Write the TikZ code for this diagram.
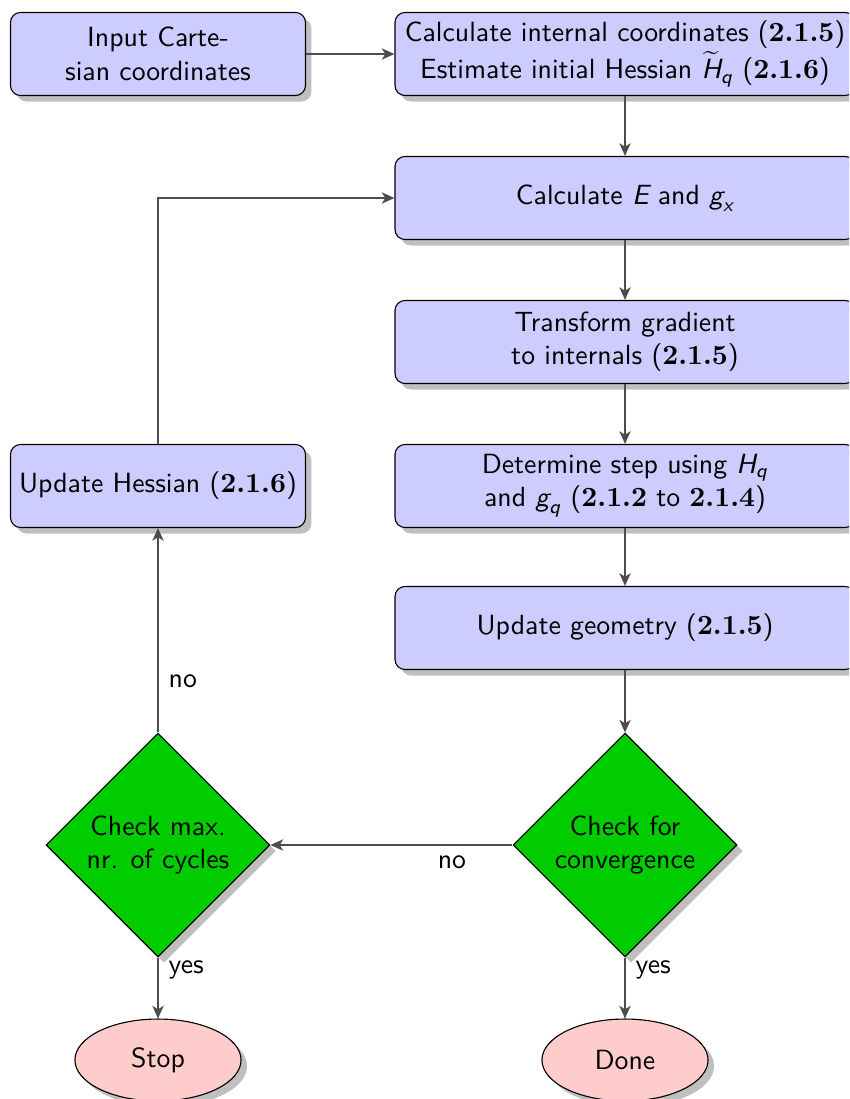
\documentclass[tikz,border=0pt]{standalone}
\usepackage{amsmath}
\usetikzlibrary{shapes.geometric,shadows,arrows.meta}
\newcommand\secnum[1]{{\rmfamily\bfseries #1}}
\newcommand\sv[1]{\textsl{#1}}
\begin{document}
\begin{tikzpicture}[x=0.36pt,y=-0.36pt, font=\sffamily,
 stepbox/.style={rectangle, draw, fill=blue!20, rounded corners=3.6pt, drop shadow, align=center, minimum height=29.9pt, inner sep=0pt},
 leftbox/.style={stepbox, minimum width=106.2pt},
 rightbox/.style={stepbox, minimum width=165.6pt},
 decision/.style={diamond, draw, fill=green!80!black, drop shadow, align=center, minimum width=80.6pt, minimum height=80.6pt, inner sep=0pt},
 terminal/.style={ellipse, draw, fill=red!20, drop shadow, minimum width=59.8pt, minimum height=29.5pt, inner sep=0pt},
 conn/.style={draw=black!70, line width=1.05pt, -{Stealth[length=4.5pt,width=4pt,inset=1.2pt]}},
 lbl/.style={text=black}
]
\useasboundingbox (0,0) rectangle (849,1099);
\clip (0,0) rectangle (849,1099);

\node[leftbox] (input) at (158,54) {Input Carte-\\sian coordinates};
\node[rightbox] (init) at (625,54) {Calculate internal coordinates (\secnum{2.1.5})\\Estimate initial Hessian $\widetilde{\sv{H}}_{\sv{q}}$ (\secnum{2.1.6})};
\node[rightbox] (calc) at (625,198) {Calculate $\sv{E}$ and $\sv{g}_{\sv{x}}$};
\node[rightbox] (trans) at (625,342) {Transform gradient\\to internals (\secnum{2.1.5})};
\node[rightbox] (step) at (625,486) {Determine step using $\sv{H}_{\sv{q}}$\\and $\sv{g}_{\sv{q}}$ (\secnum{2.1.2} to \secnum{2.1.4})};
\node[rightbox] (geom) at (625,628) {Update geometry (\secnum{2.1.5})};
\node[leftbox] (hess) at (158,486) {Update Hessian (\secnum{2.1.6})};
\node[decision] (conv) at (625,845) {Check for\\convergence};
\node[decision] (cyc) at (158,845) {Check max.\\nr. of cycles};
\node[terminal] (stop) at (158,1060) {Stop};
\node[terminal] (done) at (625,1060) {Done};

\draw[conn] (input) -- (init);
\draw[conn] (init) -- (calc);
\draw[conn] (calc) -- (trans);
\draw[conn] (trans) -- (step);
\draw[conn] (step) -- (geom);
\draw[conn] (geom) -- (conv);
\draw[conn] (conv) -- node[lbl, pos=0.25, below] {no} (cyc);
\draw[conn] (cyc) -- node[lbl, pos=0.25, right] {no} (hess);
\draw[conn] (hess) |- (calc);
\draw[conn] (cyc) -- node[lbl, pos=0.2, right] {yes} (stop);
\draw[conn] (conv) -- node[lbl, pos=0.2, right] {yes} (done);
\end{tikzpicture}
\end{document}
